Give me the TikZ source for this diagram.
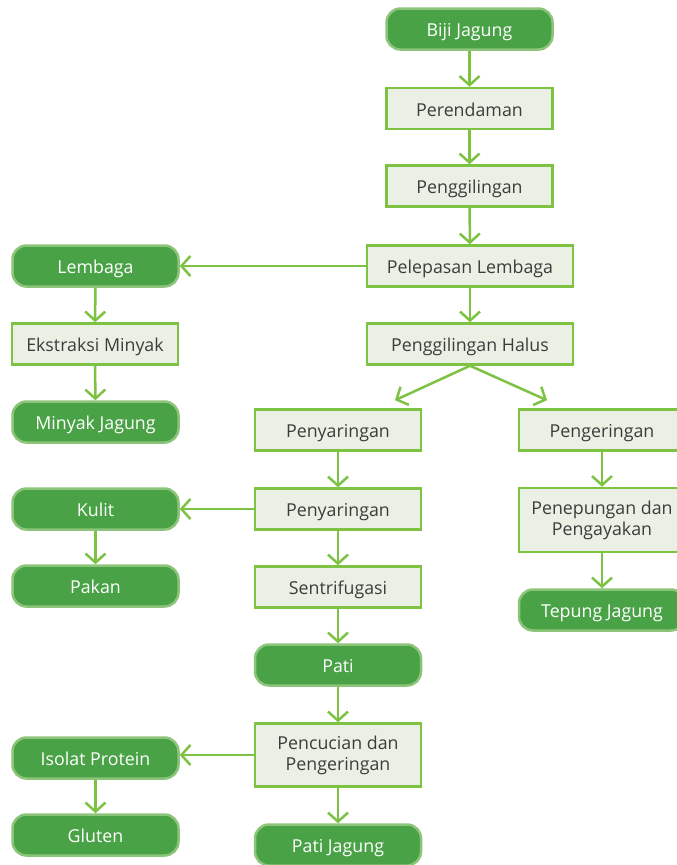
\documentclass[tikz,border=0pt]{standalone}
\usepackage{fontspec}
\setmainfont{Open Sans}
\usetikzlibrary{arrows.meta,positioning,calc}
\definecolor{JG-DARK}{RGB}{74, 162, 70}
\definecolor{JG-EDGE}{RGB}{140, 196, 122}
\definecolor{JG-LIME}{RGB}{125, 194, 66}
\definecolor{JG-PALE}{RGB}{234, 241, 228}
\definecolor{JG-TEXT}{RGB}{60, 60, 60}

\tikzset{
  boxbase/.style={draw=JG-LIME, fill=JG-PALE, line width=2.5pt, text=JG-TEXT,
    minimum width=166pt, minimum height=41pt, align=center, inner sep=2pt,
    font=\fontsize{17.8}{21}\selectfont},
  stepbox/.style={boxbase, text height=15pt, text depth=0pt},
  twobox/.style={boxbase, minimum height=64pt},
  endbox/.style={stepbox, draw=JG-EDGE, fill=JG-DARK, text=white, rounded corners=14pt},
  flow/.style={-{Straight Barb[length=9pt,width=20pt]}, draw=JG-LIME, line width=2.5pt}
}

\begin{document}
\begin{tikzpicture}[x=1pt, y=-1pt]
  \useasboundingbox (0,0) rectangle (677,865);

  % Main column
  \node[endbox] (biji) at (469.5,29) {Biji Jagung};
  \node[stepbox] (rendam) at (469.5,108.5) {Perendaman};
  \node[stepbox] (giling) at (469.5,186) {Penggilingan};
  \node[stepbox, minimum width=206pt] (lepas) at (470,266) {Pelepasan Lembaga};
  \node[stepbox, minimum width=206pt] (halus) at (470,344) {Penggilingan Halus};

  % Lembaga branch
  \node[endbox] (lembaga) at (95.5,266) {Lembaga};
  \node[stepbox] (ekstrak) at (95,344) {Ekstraksi Minyak};
  \node[endbox] (minyak) at (95.5,422) {Minyak Jagung};

  % Starch branch
  \node[stepbox] (saring1) at (338,430) {Penyaringan};
  \node[stepbox] (saring2) at (338,509) {Penyaringan};
  \node[stepbox] (sentri) at (338,587) {Sentrifugasi};
  \node[endbox] (pati) at (338,665) {Pati};
  \node[twobox, minimum height=63pt] (cuci) at (338,755) {Pencucian dan\\Pengeringan};
  \node[endbox] (patijg) at (338,845) {Pati Jagung};

  \node[endbox] (kulit) at (95.5,509) {Kulit};
  \node[endbox] (pakan) at (95.5,586) {Pakan};
  \node[endbox] (isolat) at (95.5,758) {Isolat Protein};
  \node[endbox] (gluten) at (95.5,835) {Gluten};

  % Flour branch
  \node[stepbox] (kering) at (602,430) {Pengeringan};
  \node[twobox] (tepung) at (602,520) {Penepungan dan\\Pengayakan};
  \node[endbox] (tepungjg) at (602,610) {Tepung Jagung};

  % Arrows
  \draw[flow] (biji) -- (rendam);
  \draw[flow] (rendam) -- (giling);
  \draw[flow] (giling) -- (lepas);
  \draw[flow] (lepas) -- (halus);
  \draw[flow] (lepas.west) -- (lembaga.east);
  \draw[flow] (lembaga) -- (ekstrak);
  \draw[flow] (ekstrak) -- (minyak);

  \coordinate (fork) at (halus.south);
  \draw[flow] (fork) -- ($(saring1.north)+(57,-8)$);
  \draw[flow] (fork) -- ($(kering.north)+(-55,-8)$);

  \draw[flow] (saring1) -- (saring2);
  \draw[flow] (saring2.west) -- (kulit.east);
  \draw[flow] (kulit) -- (pakan);
  \draw[flow] (saring2) -- (sentri);
  \draw[flow] (sentri) -- (pati);
  \draw[flow] (pati) -- (cuci);
  \draw[flow] (cuci.west) -- (isolat.east |- cuci.west);
  \draw[flow] (isolat) -- (gluten);
  \draw[flow] (cuci) -- (patijg);

  \draw[flow] (kering) -- (tepung);
  \draw[flow] (tepung) -- (tepungjg);
\end{tikzpicture}
\end{document}
